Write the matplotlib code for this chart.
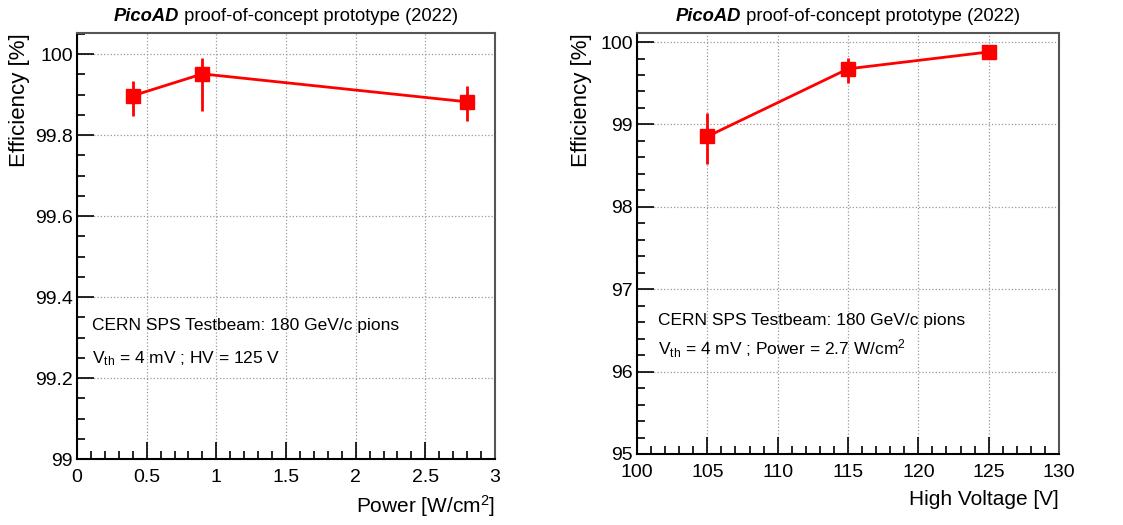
import matplotlib
matplotlib.use('agg')
from matplotlib import pyplot as plt
from matplotlib.ticker import MultipleLocator

plt.rcParams['font.family'] = ['Liberation Sans', 'DejaVu Sans']
plt.rcParams['mathtext.fontset'] = 'custom'
plt.rcParams['mathtext.rm'] = 'Liberation Sans'
plt.rcParams['mathtext.it'] = 'Liberation Sans:italic'
plt.rcParams['mathtext.bf'] = 'Liberation Sans:bold'

# Efficiency vs power (HV = 125 V)
power = [0.4, 0.9, 2.8]
eff_power = [99.897, 99.951, 99.882]
err_power_up = [0.036, 0.040, 0.038]
err_power_dn = [0.049, 0.092, 0.047]

# Efficiency vs high voltage (Power = 2.7 W/cm2)
hv = [105, 115, 125]
eff_hv = [98.854, 99.675, 99.88]
err_hv_up = [0.29, 0.135, 0.02]
err_hv_dn = [0.33, 0.175, 0.02]

title_bold = 'PicoAD'
title_rest = ' proof-of-concept prototype (2022)'
beam_text = 'CERN SPS Testbeam: 180 GeV/c pions'

W, H = 1123, 525
fig = plt.figure(figsize=(W / 100, H / 100), dpi=100)
ax1 = fig.add_axes([77 / W, (H - 459) / H, 418 / W, 426 / H])
ax2 = fig.add_axes([637 / W, (H - 454) / H, 422 / W, 421 / H])


def style_axis(ax, xmaj, xmin, ymaj, ymin):
    ax.xaxis.set_major_locator(MultipleLocator(xmaj))
    ax.xaxis.set_minor_locator(MultipleLocator(xmin))
    ax.yaxis.set_major_locator(MultipleLocator(ymaj))
    ax.yaxis.set_minor_locator(MultipleLocator(ymin))
    ax.tick_params(which='both', direction='in', top=False, right=False,
                   labelsize=14, width=1.2)
    ax.tick_params(which='major', length=12)
    ax.tick_params(which='minor', length=6)
    ax.tick_params(axis='x', which='major', pad=7)
    ax.tick_params(axis='y', which='major', pad=3)
    ax.grid(True, which='major', linestyle=':', color='#999999', linewidth=0.9)
    ax.set_axisbelow(True)
    for s in ax.spines.values():
        s.set_linewidth(1.5)
    ax.spines['right'].set_color('#555555')
    ax.spines['top'].set_color('#555555')


def draw(ax, x, y, dn, up):
    ax.errorbar(x, y, yerr=[dn, up], fmt='-s', color='red', ecolor='red',
                elinewidth=2, linewidth=2, markersize=10.5, capsize=0, zorder=3)


draw(ax1, power, eff_power, err_power_dn, err_power_up)
ax1.set_xlim(0, 3)
ax1.set_ylim(99, 100.052)
style_axis(ax1, 0.5, 0.1, 0.2, 0.05)
ax1.set_xticks([0, 0.5, 1, 1.5, 2, 2.5, 3])
ax1.set_xticklabels(['0', '0.5', '1', '1.5', '2', '2.5', '3'])
ax1.set_yticks([99, 99.2, 99.4, 99.6, 99.8, 100])
ax1.set_yticklabels(['99', '99.2', '99.4', '99.6', '99.8', '100'])

draw(ax2, hv, eff_hv, err_hv_dn, err_hv_up)
ax2.set_xlim(100, 130)
ax2.set_ylim(95, 100.11)
style_axis(ax2, 5, 1, 1, 0.2)

ax1.set_ylabel('Efficiency [%]', loc='top', fontsize=16)
ax1.yaxis.set_label_coords(-0.112, 1)
ax1.set_xlabel('Power [W/cm$^{2}$]', loc='right', fontsize=15)
ax1.xaxis.set_label_coords(1, -0.08)

ax2.set_ylabel('Efficiency [%]', loc='top', fontsize=16)
ax2.yaxis.set_label_coords(-0.107, 1)
ax2.set_xlabel('High Voltage [V]', loc='right', fontsize=15)
ax2.xaxis.set_label_coords(1, -0.086)

ax1.text(0.036, 0.303, beam_text, transform=ax1.transAxes, fontsize=12.5, va='baseline')
ax1.text(0.036, 0.225, r'V$_{\mathregular{th}}$ = 4 mV ; HV = 125 V', transform=ax1.transAxes,
         fontsize=12.5, va='baseline')
ax2.text(0.05, 0.306, beam_text, transform=ax2.transAxes, fontsize=12.5, va='baseline')
ax2.text(0.05, 0.235, r'V$_{\mathregular{th}}$ = 4 mV ; Power = 2.7 W/cm$^{2}$',
         transform=ax2.transAxes, fontsize=12.5, va='baseline')

# Two-part title: bold italic name, then regular text, centred over each pad
fig.canvas.draw()
renderer = fig.canvas.get_renderer()
for ax in (ax1, ax2):
    t1 = fig.text(0, 0, title_bold, fontsize=13.2, fontweight='bold', fontstyle='italic')
    t2 = fig.text(0, 0, title_rest, fontsize=13.2)
    w1 = t1.get_window_extent(renderer).width
    w2 = t2.get_window_extent(renderer).width
    bb = ax.get_window_extent(renderer)
    cx = (bb.x0 + bb.x1) / 2
    x0 = cx - (w1 + w2) / 2
    ybase = (H - 21) / H
    t1.set_position((x0 / W, ybase))
    t2.set_position(((x0 + w1) / W, ybase))

fig.savefig('out.png', dpi=100)
